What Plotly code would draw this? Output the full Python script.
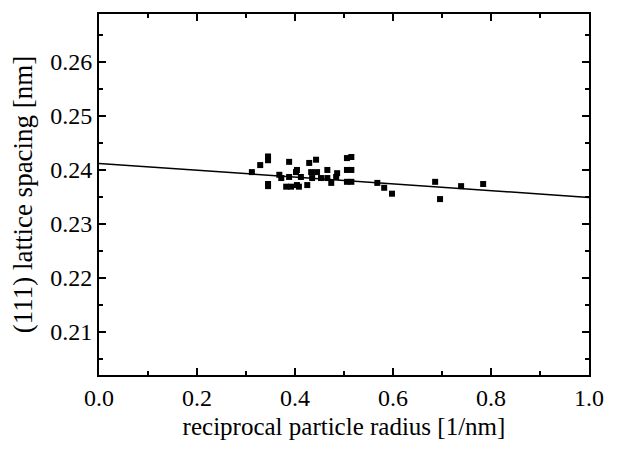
import plotly.graph_objects as go

x_pts = [0.312, 0.329, 0.345, 0.345, 0.345, 0.345, 0.368, 0.372, 0.382, 0.388,
         0.388, 0.392, 0.402, 0.404, 0.404, 0.412, 0.408, 0.429, 0.443, 0.433,
         0.435, 0.425, 0.445, 0.453, 0.466, 0.466, 0.474, 0.484, 0.486, 0.506,
         0.506, 0.506, 0.515, 0.515, 0.515, 0.568, 0.582, 0.598, 0.686, 0.696,
         0.739, 0.784]
y_pts = [0.2396, 0.2409, 0.2425, 0.2418, 0.2374, 0.2370, 0.2391, 0.2385, 0.2369, 0.2415,
         0.2387, 0.2369, 0.2396, 0.2372, 0.2400, 0.2387, 0.2369, 0.2413, 0.2419, 0.2396,
         0.2385, 0.2372, 0.2396, 0.2385, 0.2400, 0.2385, 0.2376, 0.2387, 0.2394, 0.2422,
         0.2400, 0.2378, 0.2424, 0.2400, 0.2378, 0.2376, 0.2367, 0.2356, 0.2378, 0.2346,
         0.2370, 0.2374]

fit_x = [0.0, 1.0]
fit_y = [0.2412, 0.2349]

x_ticks = [0.0, 0.2, 0.4, 0.6, 0.8, 1.0]
x_ticklabels = ["0.0", "0.2", "0.4", "0.6", "0.8", "1.0"]
y_ticks = [0.21, 0.22, 0.23, 0.24, 0.25, 0.26]
y_ticklabels = ["0.21", "0.22", "0.23", "0.24", "0.25", "0.26"]

fig = go.Figure()
fig.add_trace(go.Scatter(x=fit_x, y=fit_y, mode="lines",
                         line=dict(color="black", width=1.5), showlegend=False))
fig.add_trace(go.Scatter(x=x_pts, y=y_pts, mode="markers",
                         marker=dict(symbol="square", size=6, color="black"),
                         showlegend=False))

font = dict(family="Liberation Serif, Times New Roman, serif", color="black")
axis_common = dict(showgrid=False, zeroline=False, showline=True, linecolor="black",
                   linewidth=2, mirror="allticks", ticks="inside", ticklen=7,
                   tickwidth=1.5, tickcolor="black", automargin=False,
                   tickfont=dict(size=24, **font))
fig.update_xaxes(range=[0, 1], tickvals=x_ticks, ticktext=x_ticklabels,
                 minor=dict(dtick=0.1, ticks="inside", ticklen=4, tickwidth=1.5, tickcolor="black"),
                 title=dict(text="reciprocal particle radius [1/nm]", font=dict(size=25, **font), standoff=8),
                 **axis_common)
fig.update_yaxes(range=[0.202, 0.2689], tickvals=y_ticks, ticktext=y_ticklabels,
                 minor=dict(dtick=0.005, ticks="inside", ticklen=4, tickwidth=1.5, tickcolor="black"),
                 title=dict(text="(111) lattice spacing [nm]", font=dict(size=27, **font), standoff=13),
                 **axis_common)
fig.update_layout(width=616, height=444, paper_bgcolor="white", plot_bgcolor="white",
                  margin=dict(l=91, r=35, t=6, b=77), font=font)
fig.write_html("out.html")
